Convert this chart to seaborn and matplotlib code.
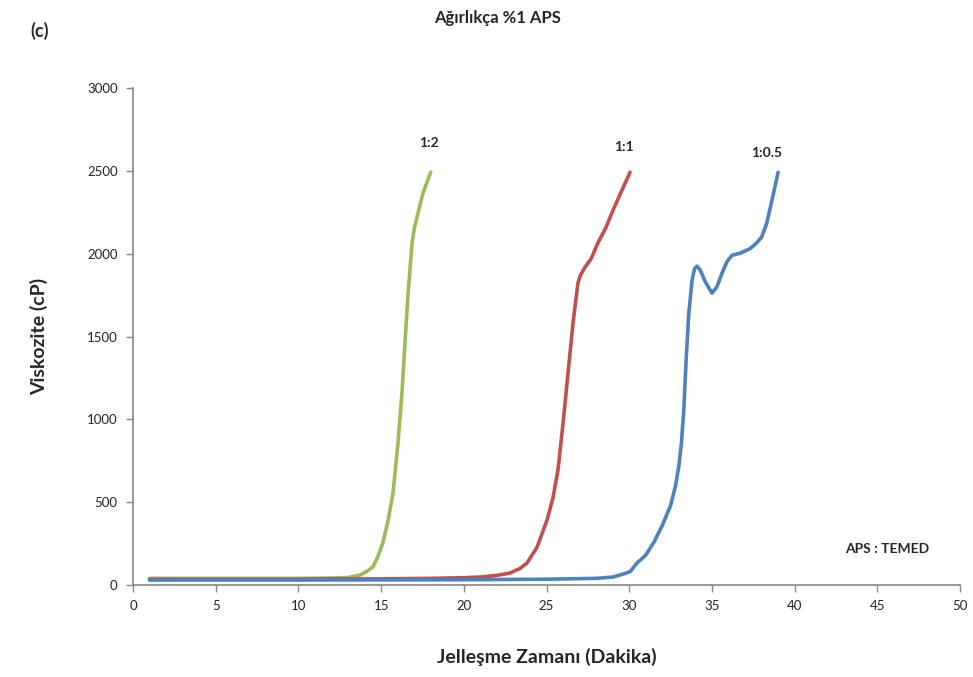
import matplotlib
matplotlib.use("Agg")
import matplotlib.pyplot as plt
import seaborn as sns
import pandas as pd

# Viscosity readings over gelation time for three APS:TEMED ratios
time_1_2 = [1, 5, 10, 12, 13, 13.72, 14.1, 14.5, 14.8, 15.1, 15.4, 15.72, 16.02,
            16.26, 16.44, 16.63, 16.87, 17.0, 17.17, 17.53, 18.0]
visc_1_2 = [40, 40, 40, 42, 45, 60, 80, 109, 170, 253, 380, 555, 857,
            1159, 1460, 1762, 2064, 2150, 2221, 2366, 2492]

time_1_1 = [1, 5, 10, 15, 18, 20, 21, 22, 22.79, 23.4, 23.82, 24.43, 25.03, 25.4,
            25.7, 26.0, 26.3, 26.6, 26.9, 27.05, 27.33, 27.7, 28.1, 28.6, 29.02,
            29.5, 30.05]
visc_1_1 = [35, 35, 35, 37, 40, 44, 48, 58, 72, 100, 133, 229, 392, 530,
            700, 978, 1279, 1581, 1823, 1870, 1919, 1970, 2064, 2160, 2263,
            2370, 2492]

time_1_05 = [1, 10, 20, 25, 28, 29, 29.44, 30.05, 30.47, 31.0, 31.5, 32.0, 32.5,
             32.8, 33.0, 33.15, 33.3, 33.45, 33.6, 33.8, 33.95, 34.1, 34.3, 34.6,
             35.0, 35.3, 35.6, 35.9, 36.2, 36.7, 37.3, 37.7, 38.0, 38.3, 38.6, 39.0]
visc_1_05 = [30, 30, 32, 35, 40, 48, 60, 80, 133, 180, 260, 360, 480,
             600, 720, 850, 1060, 1380, 1640, 1841, 1910, 1925, 1900, 1830,
             1762, 1800, 1880, 1950, 1990, 2003, 2030, 2065, 2100, 2180, 2310,
             2492]

ratio_labels = ["1:2", "1:1", "1:0.5"]
x_ticks = list(range(0, 51, 5))
y_ticks = list(range(0, 3001, 500))

sns.set_theme(style="white")
plt.rcParams["font.family"] = ["Lato", "DejaVu Sans"]

fig = plt.figure(figsize=(9.73, 6.77), dpi=100)
ax = fig.add_axes([0.1367, 0.1359, 0.85, 0.734])

series = [
    (time_1_2, visc_1_2, "#9BBB59"),
    (time_1_1, visc_1_1, "#C0504D"),
    (time_1_05, visc_1_05, "#4F81BD"),
]
for (t, v, c), lab in zip(series, ratio_labels):
    df = pd.DataFrame({"t": t, "v": v})
    sns.lineplot(data=df, x="t", y="v", ax=ax, color=c, linewidth=2.6,
                 sort=False, estimator=None, solid_joinstyle="round",
                 solid_capstyle="round")

ax.set_xlim(0, 50)
ax.set_ylim(0, 3000)
ax.set_xticks(x_ticks)
ax.set_yticks(y_ticks)
ax.tick_params(axis="both", which="both", direction="out", length=5, width=1,
               color="#868686", labelsize=9.5, labelcolor="#222222", pad=6,
               bottom=True, left=True)

for side in ["top", "right"]:
    ax.spines[side].set_visible(False)
for side in ["left", "bottom"]:
    ax.spines[side].set_color("#868686")
    ax.spines[side].set_linewidth(1.2)

ax.set_xlabel("Jelleşme Zamanı (Dakika)", fontsize=14, fontweight="bold", labelpad=26)
ax.set_ylabel("Viskozite (cP)", fontsize=14, fontweight="bold", labelpad=28)

# end-of-curve labels
ax.text(time_1_2[-1] - 0.1, 2667, ratio_labels[0], ha="center", va="center",
        fontsize=10, fontweight="bold")
ax.text(time_1_1[-1] - 0.4, 2643, ratio_labels[1], ha="center", va="center",
        fontsize=10, fontweight="bold")
ax.text(time_1_05[-1] - 0.7, 2607, ratio_labels[2], ha="center", va="center",
        fontsize=10, fontweight="bold")
ax.text(45.6, 217, "APS : TEMED", ha="center", va="center", fontsize=10,
        fontweight="bold")

fig.text(0.511, 0.973, "Ağırlıkça %1 APS", ha="center", va="center",
         fontsize=12, fontweight="bold")
fig.text(0.041, 0.955, "(c)", ha="center", va="center", fontsize=13,
         fontweight="bold")

fig.savefig("out.png", dpi=100)
